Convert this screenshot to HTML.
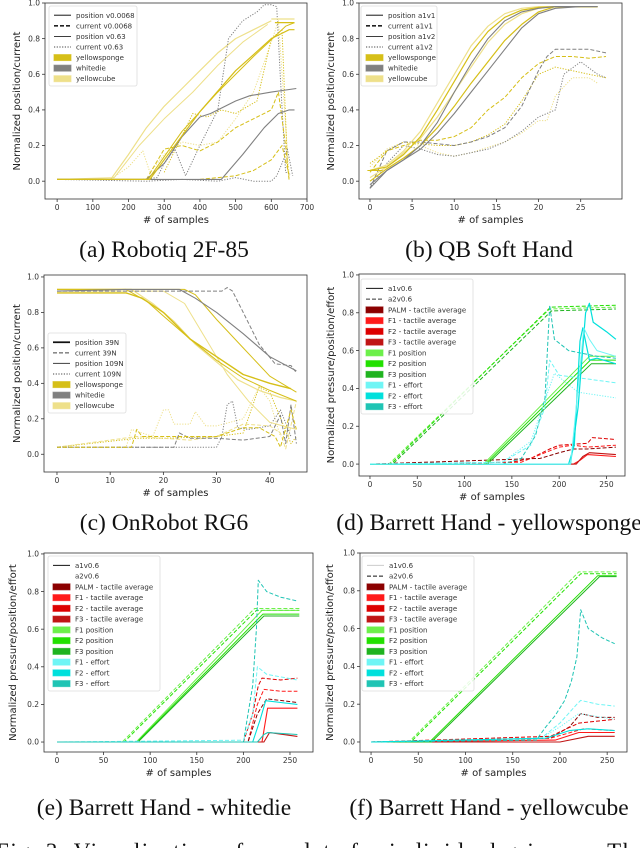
<!DOCTYPE html>
<html><head><meta charset="utf-8">
<style>
html,body{margin:0;padding:0;background:#fff;width:640px;height:848px;overflow:hidden}
svg{display:block}
.cap{font-family:"Liberation Serif",serif;font-size:23.5px;fill:#111}
.tk{font-family:"DejaVu Sans","Liberation Sans",sans-serif;font-size:7.5px;fill:#333}
.lb{font-family:"DejaVu Sans","Liberation Sans",sans-serif;font-size:10px;fill:#222}
.lg{font-family:"DejaVu Sans","Liberation Sans",sans-serif;font-size:7px;fill:#333}
</style></head>
<body>
<svg id="fig" width="640" height="848" viewBox="0 0 640 848" xmlns="http://www.w3.org/2000/svg">
<text class="cap" x="164" y="257" text-anchor="middle">(a) Robotiq 2F-85</text>
<text class="cap" x="489" y="257" text-anchor="middle">(b) QB Soft Hand</text>
<text class="cap" x="164" y="530" text-anchor="middle">(c) OnRobot RG6</text>
<text class="cap" x="489" y="530" text-anchor="middle">(d) Barrett Hand - yellowsponge</text>
<text class="cap" x="164" y="815" text-anchor="middle">(e) Barrett Hand - whitedie</text>
<text class="cap" x="489" y="815" text-anchor="middle">(f) Barrett Hand - yellowcube</text>
<text class="cap" x="-4" y="859" style="font-size:23px" textLength="650" lengthAdjust="spacing">Fig. 3: Visualization of raw data for individual grippers. The</text>
</svg>
<script>
// ---------- Panel A data ----------
const aP1x=[0,260,300,400,500,600,650,665], aP1y=[0.01,0.01,0.12,0.39,0.62,0.8,0.85,0.85];
const aP2x=[0,255,350,450,550,640,665], aP2y=[0.01,0.01,0.28,0.5,0.7,0.87,0.89];
const aS1x=[0,150,200,250,300,350,400,450,500,550,600], aS1y=[0.01,0.01,0.15,0.3,0.42,0.52,0.62,0.72,0.8,0.85,0.9];
const aS2x=[0,160,230,300,380,450,520,590], aS2y=[0.01,0.02,0.2,0.35,0.5,0.65,0.78,0.88];
const aG1x=[0,250,300,350,400,430,500,540,600,670], aG1y=[0.01,0.01,0.1,0.25,0.36,0.38,0.45,0.48,0.5,0.52];
const aG2x=[0,460,520,580,620,650,665], aG2y=[0.01,0.01,0.15,0.3,0.38,0.4,0.4];
const aC1x=[240,280,300,330,360,400,450,480,520,560,580,600,615,625,640,655], aC1y=[0.01,0.02,0.1,0.18,0.03,0.2,0.4,0.8,0.9,0.95,0.99,0.99,0.98,0.6,0.05,0.04];
const aC2x=[0,250,350,450,500,550,600,615,630,645,660], aC2y=[0.01,0.0,0.01,0.0,0.02,0.0,0.0,0.03,0.1,0.18,0.03];
const aC3x=[250,300,350,400,450,500,550,600,620,640,650], aC3y=[0.01,0.18,0.2,0.17,0.22,0.3,0.35,0.4,0.5,0.2,0.0];
const aC4x=[150,200,240,260,300,350,400,450,500,550,600,620,650], aC4y=[0.01,0.08,0.17,0.05,0.15,0.22,0.2,0.22,0.35,0.5,0.78,0.9,0.02];
const aC5x=[400,450,500,550,600,630,650], aC5y=[0.01,0.02,0.03,0.06,0.12,0.2,0.03];
const aC6x=[300,380,420,460,500,560,600,630,645], aC6y=[0.05,0.38,0.36,0.4,0.38,0.45,0.8,0.85,0.1];
const aH1x=[600,665], aH1y=[0.91,0.91];
const aH2x=[610,665], aH2y=[0.89,0.89];
const aXTicks=[0,100,200,300,400,500,600,700];
const aYTicks=[0,0.2,0.4,0.6,0.8,1.0];
// ---------- Panel B data ----------
const bX=[0,2,4,6,8,10,12,14,16,18,20,22,25,27];
const bP1=[0.06,0.08,0.15,0.25,0.4,0.56,0.72,0.84,0.92,0.96,0.975,0.98,0.98,0.98];
const bP2=[0.06,0.09,0.17,0.28,0.44,0.6,0.76,0.87,0.94,0.97,0.98,0.98,0.98,0.98];
const bP3=[-0.04,0.06,0.12,0.2,0.33,0.5,0.66,0.8,0.9,0.95,0.97,0.98,0.98,0.98];
const bP4=[0.0,0.07,0.13,0.2,0.3,0.42,0.55,0.67,0.79,0.88,0.95,0.98,0.98,0.98];
const bP5=[-0.02,0.06,0.12,0.18,0.27,0.38,0.5,0.62,0.74,0.86,0.94,0.97,0.98,0.98];
const bP6=[0.02,0.08,0.16,0.24,0.36,0.5,0.64,0.78,0.88,0.94,0.97,0.98,0.98,0.98];
const bC1x=[0,2,4,6,8,10,12,14,16,18,20,21,22,24,26,28], bC1y=[-0.04,0.17,0.22,0.22,0.21,0.2,0.22,0.25,0.3,0.42,0.62,0.7,0.74,0.74,0.74,0.72];
const bC2x=[0,2,4,6,8,10,12,14,16,18,20,22,24,26,28], bC2y=[0.05,0.17,0.2,0.23,0.23,0.25,0.3,0.4,0.47,0.58,0.66,0.7,0.7,0.69,0.7];
const bC3x=[0,2,4,6,8,10,12,14,16,18,20,22,23,25,27,28], bC3y=[-0.04,0.1,0.2,0.18,0.15,0.14,0.16,0.18,0.22,0.28,0.36,0.4,0.6,0.67,0.6,0.58];
const bC4x=[0,2,4,6,8,10,12,14,16,18,20,21,22,24,26,27], bC4y=[0.08,0.18,0.22,0.2,0.16,0.14,0.16,0.19,0.22,0.27,0.34,0.34,0.48,0.58,0.58,0.55];
const bC5x=[0,2,4,6,8,10,12,14,16,18,20,22,24,26,28], bC5y=[0.1,0.17,0.22,0.21,0.2,0.2,0.22,0.26,0.32,0.45,0.6,0.64,0.62,0.6,0.58];
const bH1x=[-0.3,1.5], bH1y=[0.06,0.06];
const bXTicks=[0,5,10,15,20,25];
// ---------- Panel C data ----------
const cP1x=[0,13,16,20,25,30,35,40,44], cP1y=[0.91,0.91,0.88,0.8,0.65,0.55,0.45,0.4,0.37];
const cP2x=[0,13,17,20,25,30,35,40,45], cP2y=[0.93,0.93,0.86,0.78,0.65,0.53,0.43,0.36,0.3];
const cP3x=[0,14,18,22,26,30,34,38,42,45], cP3y=[0.93,0.93,0.85,0.75,0.62,0.52,0.42,0.36,0.32,0.3];
const cP4x=[0,13,23,26,30,35,40,45], cP4y=[0.92,0.93,0.93,0.88,0.8,0.68,0.55,0.47];
const cP5x=[0,29,31,32,33,35,38,41,44,45], cP5y=[0.92,0.92,0.92,0.94,0.92,0.8,0.62,0.51,0.5,0.46];
const cP6x=[0,24,26,30,35,40,45], cP6y=[0.93,0.93,0.9,0.76,0.6,0.44,0.35];
const cP7x=[0,20,24,28,32,36,40,45], cP7y=[0.92,0.92,0.85,0.65,0.45,0.3,0.18,0.14];
const cC1x=[0,13,22,23,25,30,35,40,42,43,44,45], cC1y=[0.04,0.04,0.04,0.12,0.09,0.09,0.08,0.1,0.22,0.06,0.28,0.06];
const cC2x=[0,30,31,32,33,34,36,40,42,44], cC2y=[0.04,0.04,0.1,0.28,0.3,0.15,0.14,0.16,0.25,0.1];
const cC3x=[0,14,15,16,20,25,30,35,38,41,42,44,45], cC3y=[0.04,0.04,0.14,0.1,0.1,0.1,0.1,0.15,0.15,0.1,0.04,0.25,0.14];
const cC4x=[0,13,14,18,20,21,22,25,26,27,28,30,35,38,40,42], cC4y=[0.04,0.04,0.14,0.1,0.25,0.25,0.17,0.17,0.24,0.2,0.16,0.16,0.2,0.38,0.3,0.1];
const cC5x=[0,15,20,30,35,38,40,44,45], cC5y=[0.04,0.09,0.09,0.1,0.12,0.38,0.35,0.06,0.1];
const cC6x=[0,15,25,30,35,40,42,43,45], cC6y=[0.04,0.1,0.08,0.1,0.17,0.16,0.12,0.03,0.3];
const cXTicks=[0,10,20,30,40];
// ---------- Panel D data ----------
const dQ1x=[0,20,190,260], dQ1y=[0,0,0.82,0.83];
const dQ2x=[0,22,191,260], dQ2y=[0,0,0.83,0.84];
const dQ3x=[0,24,192,260], dQ3y=[0,0,0.81,0.82];
const dS1x=[0,120,232,260], dS1y=[0,0,0.57,0.57];
const dS2x=[0,122,233,260], dS2y=[0,0,0.55,0.55];
const dS3x=[0,124,234,260], dS3y=[0,0,0.53,0.53];
const dE1x=[0,140,160,175,185,190,195,210,240,260], dE1y=[0,0,0.03,0.15,0.35,0.84,0.66,0.6,0.57,0.56];
const dE2x=[0,140,170,185,190,200,230,260], dE2y=[0,0.01,0.1,0.3,0.55,0.47,0.45,0.43];
const dE3x=[0,140,170,188,195,220,260], dE3y=[0,0.01,0.12,0.38,0.48,0.38,0.35];
const dE4x=[0,210,216,222,225,232,240,260], dE4y=[0,0,0.1,0.65,0.72,0.55,0.56,0.53];
const dE5x=[0,212,220,228,232,236,250,260], dE5y=[0,0,0.3,0.8,0.85,0.75,0.7,0.66];
const dE6x=[0,212,220,226,232,240,260], dE6y=[0,0,0.4,0.72,0.66,0.6,0.57];
const dT1x=[0,150,170,190,200,230,235,260], dT1y=[0,0.01,0.03,0.08,0.1,0.11,0.14,0.13];
const dT2x=[0,160,180,200,215,230,260], dT2y=[0,0.01,0.05,0.09,0.1,0.09,0.1];
const dT3x=[0,215,222,230,260], dT3y=[0,0,0.02,0.05,0.04];
const dT4x=[0,218,225,232,260], dT4y=[0,0,0.04,0.06,0.05];
const dT5x=[0,180,200,215,230,260], dT5y=[0,0.03,0.06,0.08,0.08,0.09];
const barXTicks=[0,50,100,150,200,250];
// ---------- Panel E data ----------
const eQ1x=[0,70,212,260], eQ1y=[0,0,0.71,0.71];
const eQ2x=[0,72,214,260], eQ2y=[0,0,0.7,0.7];
const eS1x=[0,85,220,260], eS1y=[0,0,0.7,0.7];
const eS2x=[0,86,221,260], eS2y=[0,0,0.68,0.68];
const eS3x=[0,87,222,260], eS3y=[0,0,0.67,0.67];
const eE1x=[0,200,210,214,216,225,240,258], eE1y=[0,0,0.3,0.6,0.86,0.8,0.77,0.75];
const eE2x=[0,200,210,215,225,258], eE2y=[0,0.01,0.15,0.4,0.36,0.33];
const eE3x=[0,210,218,224,240,258], eE3y=[0,0,0.12,0.22,0.21,0.2];
const eE4x=[0,215,222,226,258], eE4y=[0,0,0.04,0.05,0.04];
const eT1x=[0,200,210,216,220,240,258], eT1y=[0,0,0.15,0.3,0.34,0.33,0.34];
const eT2x=[0,205,215,222,240,258], eT2y=[0,0,0.2,0.28,0.27,0.27];
const eT3x=[0,205,215,225,258], eT3y=[0,0,0.15,0.23,0.21];
const eT4x=[0,220,226,258], eT4y=[0,0,0.18,0.18];
const eT5x=[0,222,228,258], eT5y=[0,0,0.05,0.03];
// ---------- Panel F data ----------
const fQ1x=[0,40,220,260], fQ1y=[0,0,0.9,0.9];
const fQ2x=[0,42,222,260], fQ2y=[0,0,0.89,0.89];
const fS1x=[0,62,240,260], fS1y=[0,0,0.88,0.88];
const fS2x=[0,64,242,260], fS2y=[0,0,0.875,0.875];
const fE1x=[0,175,185,195,205,212,218,222,230,245,258], fE1y=[0,0.01,0.08,0.14,0.22,0.32,0.45,0.7,0.6,0.55,0.52];
const fE2x=[0,180,200,218,222,240,258], fE2y=[0,0.02,0.1,0.2,0.22,0.2,0.19];
const fE3x=[0,180,200,220,258], fE3y=[0,0.02,0.08,0.15,0.12];
const fE4x=[0,185,210,230,258], fE4y=[0,0.02,0.06,0.07,0.06];
const fT1x=[0,190,210,222,240,258], fT1y=[0,0.02,0.08,0.15,0.13,0.13];
const fT2x=[0,190,220,258], fT2y=[0,0.03,0.1,0.12];
const fT3x=[0,195,220,258], fT3y=[0,0.01,0.05,0.05];
const fT4x=[0,200,230,258], fT4y=[0,0,0.03,0.03];
const fT5x=[0,190,225,258], fT5y=[0,0.02,0.07,0.06];

const NS='http://www.w3.org/2000/svg';
const svg=document.getElementById('fig');
const YS='#d6bf18', GR='#808080', YC='#eee08a';
const PALM='#8b0000', T1='#ff1a1a', T2='#dd0000', T3='#c01515';
const G1='#6cf04a', G2='#22e000', G3='#1fb31f', E1='#6ff5f5', E2='#00e0dc', E3='#1fc4b4';
const DASH={solid:'',dash:'4,2',dot:'1.2,1.5'};

function mk(tag,attrs,parent){const e=document.createElementNS(NS,tag);for(const k in attrs)e.setAttribute(k,attrs[k]);(parent||svg).appendChild(e);return e;}

function panel(p){
  const g=mk('g',{});
  
  
  const sx=v=>p.box[0]+(v-p.xd[0])/(p.xd[1]-p.xd[0])*(p.box[2]-p.box[0]);
  const sy=v=>p.box[3]-(v-p.yd[0])/(p.yd[1]-p.yd[0])*(p.box[3]-p.box[1]);
  const clip=mk('clipPath',{id:'clip-'+p.name},g);
  mk('rect',{x:p.box[0],y:p.box[1],width:p.box[2]-p.box[0],height:p.box[3]-p.box[1]},clip);
  const lines=mk('g',{'clip-path':'url(#clip-'+p.name+')'},g);
  
  
  p.series.forEach((s,i)=>{
    const pts=s.x.map((xv,j)=>sx(xv).toFixed(1)+','+sy(s.y[j]).toFixed(1)).join(' ');
    const el=mk('polyline',{points:pts,fill:'none',stroke:s.c,'stroke-width':s.w||1,'stroke-dasharray':DASH[s.d||'solid'],'stroke-linejoin':'round'},lines);
    
    
  });
  const frame=mk('rect',{x:p.box[0],y:p.box[1],width:p.box[2]-p.box[0],height:p.box[3]-p.box[1],fill:'none',stroke:'#333','stroke-width':0.8},g);
  
  
  p.xt.forEach(t=>{
    const x=sx(t);
    mk('line',{x1:x,x2:x,y1:p.box[3],y2:p.box[3]+3,stroke:'#333','stroke-width':0.8},g);
    const tx=mk('text',{x:x,y:p.box[3]+11,'text-anchor':'middle',class:'tk'},g);
    tx.textContent=String(t);
    
    
  });
  p.yt.forEach(t=>{
    const y=sy(t);
    mk('line',{x1:p.box[0]-3,x2:p.box[0],y1:y,y2:y,stroke:'#333','stroke-width':0.8},g);
    const tx=mk('text',{x:p.box[0]-5,y:y+2.7,'text-anchor':'end',class:'tk'},g);
    tx.textContent=t.toFixed(1);
    
    
  });
  const xl=mk('text',{x:(p.box[0]+p.box[2])/2,y:p.box[3]+24,'text-anchor':'middle',class:'lb'},g);
  xl.textContent='# of samples';
  
  
  const yx=p.ylx, yy=(p.box[1]+p.box[3])/2;
  const yl=mk('text',{x:yx,y:yy,'text-anchor':'middle',class:'lb',transform:'rotate(-90 '+yx+' '+yy+')'},g);
  yl.textContent=p.ylabel;
  
  
  const L=p.leg;
  const lg=mk('g',{},g);
  
  
  mk('rect',{x:L.x,y:L.y,width:L.w,height:L.h,fill:'#fff','fill-opacity':0.85,stroke:'#ddd','stroke-width':0.8,rx:2},lg);
  const step=(L.h-6)/L.items.length;
  L.items.forEach((it,i)=>{
    const cy=L.y+4+step*(i+0.5);
    const eg=mk('g',{},lg);
    
    
    if(it.t==='line'){
      mk('line',{x1:L.x+5,x2:L.x+22,y1:cy,y2:cy,stroke:it.c,'stroke-width':it.w||1,'stroke-dasharray':DASH[it.d||'solid']},eg);
    } else {
      mk('rect',{x:L.x+5,y:cy-3,width:17,height:6,fill:it.c,stroke:it.c,'stroke-opacity':0.7},eg);
    }
    const tx=mk('text',{x:L.x+27,y:cy+2.5,class:'lg'},eg);
    tx.textContent=it.l;
  });
}

const yT=[0,0.2,0.4,0.6,0.8,1.0];
panel({name:'panel-a',box:[45,3,307,199],xd:[-34,700],yd:[-0.1,1.0],xt:aXTicks,yt:aYTicks,ylx:20,ylabel:'Normalized position/current',
 series:[
  {x:aS1x,y:aS1y,c:YC,w:1.2},{x:aS2x,y:aS2y,c:YC,w:1},
  {x:aC4x,y:aC4y,c:YC,d:'dot'},{x:aC6x,y:aC6y,c:YS,d:'dot'},
  {x:aC2x,y:aC2y,c:GR,d:'dot'},{x:aC1x,y:aC1y,c:GR,d:'dot'},
  {x:aC3x,y:aC3y,c:YS,d:'dash'},{x:aC5x,y:aC5y,c:YS,d:'dash'},
  {x:aG1x,y:aG1y,c:GR,w:1.1},{x:aG2x,y:aG2y,c:GR,w:1.1},
  {x:aP1x,y:aP1y,c:YS,w:1.2},{x:aP2x,y:aP2y,c:YS,w:1},
  {x:aH1x,y:aH1y,c:YC,w:1.2},{x:aH2x,y:aH2y,c:YS,w:1.2}],
 leg:{x:49,y:6,w:88,h:80,items:[
  {t:'line',c:'#444',w:1.2,l:'position v0.0068'},{t:'line',c:'#222',w:1.6,d:'dash',l:'current v0.0068'},
  {t:'line',c:'#222',w:0.8,l:'position v0.63'},{t:'line',c:'#444',w:1,d:'dot',l:'current v0.63'},
  {t:'patch',c:YS,l:'yellowsponge'},{t:'patch',c:GR,l:'whitedie'},{t:'patch',c:YC,l:'yellowcube'}]}});

panel({name:'panel-b',box:[359,3,622,199],xd:[-1.3,29.9],yd:[-0.1,1.0],xt:bXTicks,yt:yT,ylx:334,ylabel:'Normalized position/current',
 series:[
  {x:bC4x,y:bC4y,c:YC,d:'dot'},{x:bC5x,y:bC5y,c:YS,d:'dot'},{x:bC3x,y:bC3y,c:GR,d:'dot'},
  {x:bC1x,y:bC1y,c:GR,d:'dash'},{x:bC2x,y:bC2y,c:YS,d:'dash'},
  {x:bX,y:bP2,c:YC,w:1.2},{x:bX,y:bP6,c:YC,w:1.2},{x:bX,y:bP1,c:YS,w:1.2},{x:bX,y:bP4,c:YS,w:1.2},
  {x:bX,y:bP3,c:GR,w:1.1},{x:bX,y:bP5,c:GR,w:1.1},{x:bH1x,y:bH1y,c:YS,w:1}],
 leg:{x:361,y:6,w:76,h:80,items:[
  {t:'line',c:'#444',w:1.2,l:'position a1v1'},{t:'line',c:'#222',w:1.6,d:'dash',l:'current a1v1'},
  {t:'line',c:'#222',w:0.8,l:'position a1v2'},{t:'line',c:'#444',w:1,d:'dot',l:'current a1v2'},
  {t:'patch',c:YS,l:'yellowsponge'},{t:'patch',c:GR,l:'whitedie'},{t:'patch',c:YC,l:'yellowcube'}]}});

panel({name:'panel-c',box:[44,275,307,472],xd:[-2.44,47],yd:[-0.1,1.011],xt:cXTicks,yt:yT,ylx:20,ylabel:'Normalized position/current',
 series:[
  {x:cC4x,y:cC4y,c:YC,d:'dot'},{x:cC5x,y:cC5y,c:YS,d:'dot'},{x:cC6x,y:cC6y,c:YC,d:'dash'},
  {x:cC2x,y:cC2y,c:GR,d:'dot'},{x:cC1x,y:cC1y,c:GR,d:'dash'},{x:cC3x,y:cC3y,c:YS,d:'dash'},
  {x:cP7x,y:cP7y,c:YC,w:1},{x:cP3x,y:cP3y,c:YC,w:1.2},{x:cP6x,y:cP6y,c:YS,w:1},
  {x:cP1x,y:cP1y,c:YS,w:1.4},{x:cP2x,y:cP2y,c:YS,w:1},
  {x:cP5x,y:cP5y,c:GR,d:'dash'},{x:cP4x,y:cP4y,c:GR,w:1.1}],
 leg:{x:48,y:333,w:78,h:80,items:[
  {t:'line',c:'#111',w:1.8,l:'position 39N'},{t:'line',c:'#444',w:1,d:'dash',l:'current 39N'},
  {t:'line',c:'#555',w:1.2,l:'position 109N'},{t:'line',c:'#444',w:1,d:'dot',l:'current 109N'},
  {t:'patch',c:YS,l:'yellowsponge'},{t:'patch',c:GR,l:'whitedie'},{t:'patch',c:YC,l:'yellowcube'}]}});

function barLeg(x,y,first){return {x:x,y:y,w:112,h:135,items:[
  {t:'line',c:first[0],w:1,l:'a1v0.6'},{t:'line',c:first[1],w:1,d:'dash',l:'a2v0.6'},
  {t:'patch',c:PALM,l:'PALM - tactile average'},{t:'patch',c:T1,l:'F1 - tactile average'},
  {t:'patch',c:T2,l:'F2 - tactile average'},{t:'patch',c:T3,l:'F3 - tactile average'},
  {t:'patch',c:G1,l:'F1 position'},{t:'patch',c:G2,l:'F2 position'},{t:'patch',c:G3,l:'F3 position'},
  {t:'patch',c:E1,l:'F1 - effort'},{t:'patch',c:E2,l:'F2 - effort'},{t:'patch',c:E3,l:'F3 - effort'}]};}

panel({name:'panel-d',box:[359,274,625,476],xd:[-11.6,269.6],yd:[-0.063,1.005],xt:barXTicks,yt:yT,ylx:334,ylabel:'Normalized pressure/position/effort',
 series:[
  {x:dT1x,y:dT1y,c:T2,d:'dash'},{x:dT2x,y:dT2y,c:T1,d:'dash'},{x:dT5x,y:dT5y,c:PALM,d:'dash'},
  {x:dT3x,y:dT3y,c:T1,w:1.1},{x:dT4x,y:dT4y,c:T3,w:1.1},
  {x:dQ1x,y:dQ1y,c:G1,d:'dash'},{x:dQ2x,y:dQ2y,c:G2,d:'dash'},{x:dQ3x,y:dQ3y,c:G3,d:'dash'},
  {x:dS1x,y:dS1y,c:G1},{x:dS2x,y:dS2y,c:G2},{x:dS3x,y:dS3y,c:G3},
  {x:dE1x,y:dE1y,c:E3,d:'dash'},{x:dE2x,y:dE2y,c:E1,d:'dash'},{x:dE3x,y:dE3y,c:E1,d:'dot'},
  {x:dE4x,y:dE4y,c:E2,w:1.2},{x:dE5x,y:dE5y,c:E2,w:1.2},{x:dE6x,y:dE6y,c:E1,w:1}],
 leg:barLeg(361,279,['#111','#333'])});

panel({name:'panel-e',box:[44,553,313,752],xd:[-13.9,274.7],yd:[-0.053,1.005],xt:barXTicks,yt:yT,ylx:16,ylabel:'Normalized pressure/position/effort',
 series:[
  {x:eT1x,y:eT1y,c:T2,d:'dash'},{x:eT2x,y:eT2y,c:T1,d:'dash'},{x:eT3x,y:eT3y,c:PALM,d:'dash'},
  {x:eT4x,y:eT4y,c:T1,w:1.1},{x:eT5x,y:eT5y,c:T3,w:1.1},
  {x:eQ1x,y:eQ1y,c:G1,d:'dash'},{x:eQ2x,y:eQ2y,c:G2,d:'dash'},
  {x:eS1x,y:eS1y,c:G1},{x:eS2x,y:eS2y,c:G2},{x:eS3x,y:eS3y,c:G3},
  {x:eE1x,y:eE1y,c:E3,d:'dash'},{x:eE2x,y:eE2y,c:E1,d:'dash'},
  {x:eE3x,y:eE3y,c:E2,w:1.1},{x:eE4x,y:eE4y,c:E3,w:1.1}],
 leg:barLeg(48,556,['#111','#fff'])});

panel({name:'panel-f',box:[360,553,627,752],xd:[-11.7,271],yd:[-0.053,1.0],xt:barXTicks,yt:yT,ylx:333,ylabel:'Normalized pressure/position/effort',
 series:[
  {x:fT1x,y:fT1y,c:PALM,d:'dash'},{x:fT2x,y:fT2y,c:T2,d:'dash'},{x:fT5x,y:fT5y,c:T1,d:'dash'},
  {x:fT3x,y:fT3y,c:T1,w:1.1},{x:fT4x,y:fT4y,c:T3,w:1.1},
  {x:fQ1x,y:fQ1y,c:G1,d:'dash'},{x:fQ2x,y:fQ2y,c:G2,d:'dash'},
  {x:fS1x,y:fS1y,c:G2},{x:fS2x,y:fS2y,c:G3},
  {x:fE1x,y:fE1y,c:E3,d:'dash'},{x:fE2x,y:fE2y,c:E1,d:'dash'},
  {x:fE3x,y:fE3y,c:E1,d:'dot'},{x:fE4x,y:fE4y,c:E2,w:1.1}],
 leg:barLeg(362,556,['#ccc','#111'])});
</script>
</body></html>
